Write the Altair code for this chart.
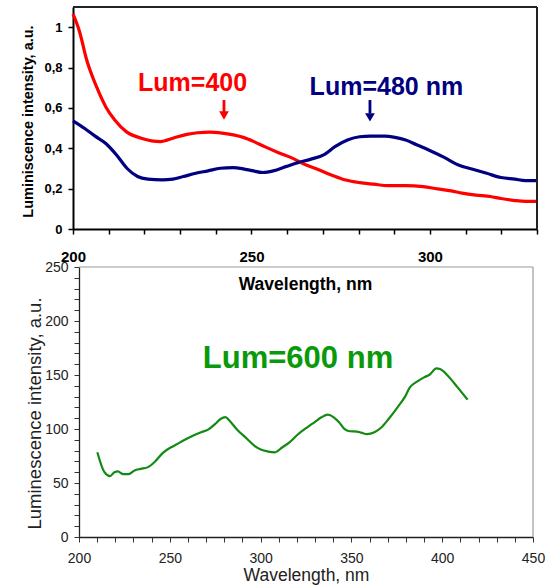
import altair as alt
import pandas as pd

F = "Liberation Sans"

# ---- top panel data (excitation spectra) ----
red_wl = [200, 201.8, 203.8, 206.7, 209.2, 211.7, 215.1, 219.1, 222, 224.5, 228, 231.9, 234.9, 238.3, 241.8,
          245.3, 247.7, 250.7, 253.7, 257.6, 261.6, 265, 268.5, 272.4, 276.4, 280.3, 284.3, 288.2, 293.2, 298.1,
          302.1, 306, 309, 312.9, 316.9, 319.9, 323.8, 326.8, 330]
red_val = [1.066, 0.98, 0.84, 0.70, 0.605, 0.54, 0.48, 0.45, 0.437, 0.433, 0.45, 0.469, 0.477, 0.48, 0.475,
           0.465, 0.454, 0.433, 0.408, 0.378, 0.35, 0.32, 0.296, 0.268, 0.243, 0.23, 0.222, 0.215, 0.215, 0.21,
           0.199, 0.189, 0.178, 0.168, 0.161, 0.151, 0.141, 0.137, 0.137]
blue_wl = [200, 203.3, 206.2, 209.2, 212.2, 215.1, 218.1, 221, 225, 228, 230.9, 234.4, 237.8, 241.3, 244.8,
           247.7, 250.2, 253.2, 256.1, 259.6, 263, 266.5, 270.5, 273.4, 276.9, 280.3, 283.3, 287.3, 290.2, 293.2,
           296.1, 300.1, 304, 308, 312, 315.9, 319.9, 323.8, 326.8, 330]
blue_val = [0.536, 0.498, 0.46, 0.424, 0.367, 0.301, 0.26, 0.247, 0.243, 0.247, 0.26, 0.276, 0.288, 0.301, 0.304,
            0.298, 0.289, 0.28, 0.288, 0.309, 0.329, 0.345, 0.37, 0.408, 0.441, 0.457, 0.46, 0.46, 0.454, 0.441,
            0.419, 0.388, 0.355, 0.317, 0.296, 0.276, 0.255, 0.247, 0.24, 0.24]
top_labels = ["Lum=400", "Lum=480 nm"]
top_label_wl = [233.5, 287.8]
top_label_val = [0.683, 0.663]
top_label_colors = ["#ff0000", "#000080"]
arrow_wl = [242.3, 283.2]
arrow_top = [0.639, 0.639]
arrow_bottom = [0.579, 0.572]
arrow_head = [0.562, 0.553]
top_xdomain = [200, 330]
top_ydomain = [0, 1.1]
top_xticks = list(range(200, 331, 10))
top_yticks = [0, 0.2, 0.4, 0.6, 0.8, 1.0]

# ---- bottom panel data ----
green_wl = [210.1, 214, 217.1, 219.5, 221.4, 224.4, 227.3, 230.6, 234, 238, 241.9, 246.2, 250.7, 253.6, 257.5,
            262.4, 267.2, 271.1, 275, 277.9, 280.7, 282.8, 287.1, 292.6, 296.5, 300.4, 304.2, 307.8, 312, 315.9,
            320.8, 325.7, 329.6, 333.5, 337, 340.3, 343.2, 346.1, 349.1, 353, 355.3, 358.6, 362.7, 366.6, 370.5,
            375.4, 379.3, 382.2, 386.1, 390, 393, 396.8, 398.8, 403.6, 408.5, 414]
green_val = [78.5, 60, 56.3, 60, 60.7, 58.2, 58.2, 61.6, 63.1, 64.7, 69.9, 77.9, 83.1, 85.6, 89.3,
             93.6, 97, 99.4, 104.7, 109.3, 111, 107.8, 99.4, 90.8, 84.7, 80.7, 79.1, 78.4, 83.1, 87.7,
             95.4, 101.6, 106.2, 110.8, 113.3, 110.8, 106.2, 100.1, 97.9, 97.6, 96.7, 95.2, 97, 101.6, 109.3,
             120.1, 129.3, 138.5, 143.8, 147.8, 150.2, 156.1, 155.5, 148.4, 138.5, 127.2]
bottom_label = ["Lum=600 nm"]
bottom_label_wl = [320.6]
bottom_label_val = [156.5]
bot_xdomain = [200, 450]
bot_ydomain = [0, 250]
bot_xticks = list(range(200, 451, 10))
bot_yticks = list(range(0, 251, 10))

W, H = 554, 586

# ---------------- top panel ----------------
tx = alt.Scale(domain=top_xdomain, range=[73, 537], nice=False, zero=False)
ty = alt.Scale(domain=top_ydomain, range=[229, 7], nice=False, zero=False)
tx_axis = alt.Axis(orient="bottom", offset=229 - H, values=top_xticks,
                   labelExpr="datum.value % 50 == 0 ? datum.label : ''",
                   labelFont=F, labelFontSize=15, labelFontWeight="bold", labelColor="black",
                   labelPadding=15, labelFlush=False, labelOverlap=False,
                   tickSize=5, tickColor="black", tickWidth=1.5,
                   domainColor="black", domainWidth=2, grid=False,
                   title="Wavelength, nm", titleFont=F, titleFontSize=17.5, titleFontWeight="bold",
                   titleColor="black", titleY=60, titleBaseline="alphabetic")
ty_axis = alt.Axis(orient="left", offset=-73, values=top_yticks,
                   labelExpr="replace(format(datum.value, '.1~f'), '.', ',')",
                   labelFont=F, labelFontSize=13, labelFontWeight="bold", labelColor="black",
                   labelPadding=6, labelFlush=False, labelOverlap=False,
                   tickSize=5, tickColor="black", tickWidth=1.5,
                   domainColor="black", domainWidth=2, grid=False,
                   title="Luminiscence intensity, a.u.", titleFont=F, titleFontSize=14.5,
                   titleFontWeight="bold", titleColor="black", titleX=-41, titleY=121,
                   titleBaseline="alphabetic", titleAngle=270)

def txe(field="wl"):
    return alt.X(f"{field}:Q", scale=tx, axis=tx_axis)

def tye(field="val"):
    return alt.Y(f"{field}:Q", scale=ty, axis=ty_axis)

red_df = pd.DataFrame({"wl": red_wl, "val": red_val})
blue_df = pd.DataFrame({"wl": blue_wl, "val": blue_val})
red_line = alt.Chart(red_df).mark_line(color="#ff0000", strokeWidth=3.2, interpolate="monotone").encode(
    x=txe(), y=tye())
blue_line = alt.Chart(blue_df).mark_line(color="#000080", strokeWidth=3.2, interpolate="monotone").encode(
    x=txe(), y=tye())

frame_top_df = pd.DataFrame({"wl": [top_xdomain[0]], "wl2": [top_xdomain[1]],
                             "val": [top_ydomain[1]], "val2": [top_ydomain[1]]})
frame_right_df = pd.DataFrame({"wl": [top_xdomain[1]], "wl2": [top_xdomain[1]],
                               "val": [top_ydomain[0]], "val2": [top_ydomain[1]]})
frame_df = pd.concat([frame_top_df, frame_right_df])
top_frame = alt.Chart(frame_df).mark_rule(color="#222222", strokeWidth=2).encode(
    x=txe(), x2="wl2:Q", y=tye(), y2="val2:Q")

lab_df = pd.DataFrame({"wl": top_label_wl, "val": top_label_val, "t": top_labels, "c": top_label_colors})
top_text = alt.Chart(lab_df).mark_text(font=F, fontSize=25, fontWeight="bold", align="center",
                                       baseline="alphabetic").encode(
    x=txe(), y=tye(), text="t:N", color=alt.Color("c:N", scale=None))

arr_df = pd.DataFrame({"wl": arrow_wl, "val": arrow_top, "val2": arrow_bottom, "head": arrow_head,
                       "c": top_label_colors})
arrow_shaft = alt.Chart(arr_df).mark_rule(strokeWidth=2.8).encode(
    x=txe(), y=tye(), y2="val2:Q", color=alt.Color("c:N", scale=None))
arrow_tip = alt.Chart(arr_df).mark_point(shape="triangle-down", filled=True, size=95, opacity=1).encode(
    x=txe(), y=tye("head"), color=alt.Color("c:N", scale=None))

top = alt.layer(red_line, blue_line, top_frame, top_text, arrow_shaft, arrow_tip)

# ---------------- bottom panel ----------------
bx = alt.Scale(domain=bot_xdomain, range=[79, 533], nice=False, zero=False)
by = alt.Scale(domain=bot_ydomain, range=[537, 267], nice=False, zero=False)
bx_axis = alt.Axis(orient="bottom", offset=537 - H, values=bot_xticks,
                   labelExpr="datum.value % 50 == 0 ? datum.label : ''",
                   labelFont=F, labelFontSize=14, labelColor="#222222",
                   labelPadding=9, labelFlush=False, labelOverlap=False,
                   tickSize=5, tickColor="#333333", tickWidth=1,
                   domainColor="#222222", domainWidth=1.3, grid=False,
                   title="Wavelength, nm", titleFont=F, titleFontSize=17.5, titleFontWeight="normal",
                   titleColor="#222222", titleY=43, titleBaseline="alphabetic")
by_axis = alt.Axis(orient="left", offset=-79, values=bot_yticks,
                   labelExpr="datum.value % 50 == 0 ? datum.label : ''",
                   labelFont=F, labelFontSize=14, labelColor="#222222",
                   labelPadding=6, labelFlush=False, labelOverlap=False,
                   tickSize=5, tickColor="#333333", tickWidth=1,
                   domainColor="#222222", domainWidth=1.3, grid=False,
                   title="Luminescence intensity, a.u.", titleFont=F, titleFontSize=18.5,
                   titleFontWeight="normal", titleColor="#222222", titleX=-39, titleY=413,
                   titleBaseline="alphabetic", titleAngle=270)

def bxe(field="wl"):
    return alt.X(f"{field}:Q", scale=bx, axis=bx_axis)

def bye(field="val"):
    return alt.Y(f"{field}:Q", scale=by, axis=by_axis)

green_df = pd.DataFrame({"wl": green_wl, "val": green_val})
green_line = alt.Chart(green_df).mark_line(color="#138a13", strokeWidth=2.2, interpolate="monotone").encode(
    x=bxe(), y=bye())

bframe_df = pd.DataFrame({"wl": [bot_xdomain[0], bot_xdomain[1]], "wl2": [bot_xdomain[1], bot_xdomain[1]],
                          "val": [bot_ydomain[1], bot_ydomain[0]], "val2": [bot_ydomain[1], bot_ydomain[1]]})
bot_frame = alt.Chart(bframe_df).mark_rule(color="#9a9a9a", strokeWidth=1.2).encode(
    x=bxe(), x2="wl2:Q", y=bye(), y2="val2:Q")

blab_df = pd.DataFrame({"wl": bottom_label_wl, "val": bottom_label_val, "t": bottom_label})
bot_text = alt.Chart(blab_df).mark_text(font=F, fontSize=31, fontWeight="bold", align="center",
                                        baseline="alphabetic", color="#0a990a").encode(
    x=bxe(), y=bye(), text="t:N")

bottom = alt.layer(bot_frame, green_line, bot_text)

chart = alt.layer(top, bottom).resolve_scale(x="independent", y="independent").properties(
    width=W, height=H, autosize="none", padding=0, background="white"
).configure_view(strokeWidth=0)

chart.save("out.html", embed_options={"renderer": "svg", "actions": False})
